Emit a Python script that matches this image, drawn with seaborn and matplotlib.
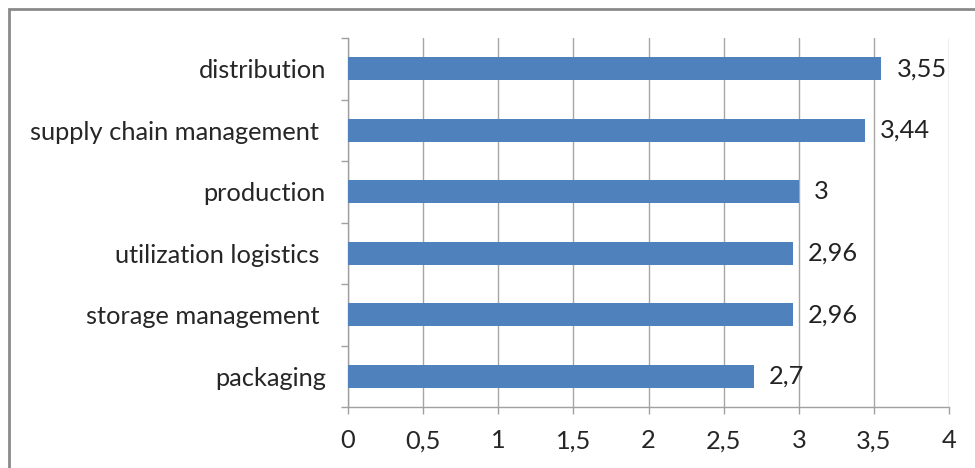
import matplotlib
matplotlib.use("Agg")
import matplotlib.pyplot as plt
import seaborn as sns
import pandas as pd
from matplotlib.patches import Rectangle

# values (top to bottom)
categories = ["distribution", "supply chain management ", "production",
              "utilization logistics ", "storage management ", "packaging"]
scores = [3.55, 3.44, 3.0, 2.96, 2.96, 2.7]
xticks = [0, 0.5, 1, 1.5, 2, 2.5, 3, 3.5, 4]

df = pd.DataFrame({"category": categories, "score": scores})

sns.set_theme(style="white")
plt.rcParams["font.family"] = ["Lato", "DejaVu Sans"]
plt.rcParams["text.color"] = "#222222"

fs = 18.3

fig = plt.figure(figsize=(9.75, 4.68), dpi=100)
ax = fig.add_axes([348 / 975, 1 - 407 / 468, (949 - 348) / 975, (407 - 38) / 468])

sns.barplot(data=df, x="score", y="category", orient="h", color="#4F81BD",
            width=0.37, saturation=1, linewidth=0, ax=ax, zorder=3)

ax.set_xlim(0, 4)
ax.set_ylim(5.5, -0.5)
ax.set_xticks(xticks)
ax.set_xticklabels([f"{t:g}".replace(".", ",") for t in xticks], fontsize=fs)
ax.set_xlabel("")
ax.set_ylabel("")

# labels at category centres, tick marks at boundaries
ax.set_yticks(range(len(categories)))
ax.set_yticklabels(categories, fontsize=fs)
ax.set_yticks([i - 0.5 for i in range(len(categories) + 1)], minor=True)
ax.tick_params(axis="y", which="major", length=0, pad=16)
ax.tick_params(axis="y", which="minor", length=5, width=1, color="#a0a0a0", left=True)
ax.tick_params(axis="x", which="major", length=5, width=1, color="#a0a0a0", bottom=True, pad=11)

ax.grid(axis="x", color="#a6a6a6", linewidth=1, zorder=0)
ax.set_axisbelow(True)
for side in ["top", "right"]:
    ax.spines[side].set_visible(False)
for side in ["left", "bottom"]:
    ax.spines[side].set_color("#a0a0a0")
    ax.spines[side].set_linewidth(1)

ax.bar_label(ax.containers[0], labels=[f"{v:g}".replace(".", ",") for v in scores],
             padding=11, fontsize=fs, color="#222222")

# outer chart border
fig.patches.append(Rectangle((9 / 975, -0.1), 1.2, 1 - 9 / 468 + 0.1,
                             transform=fig.transFigure, fill=False,
                             edgecolor="#8a8a8a", linewidth=2))

fig.savefig("out.png", dpi=100)
